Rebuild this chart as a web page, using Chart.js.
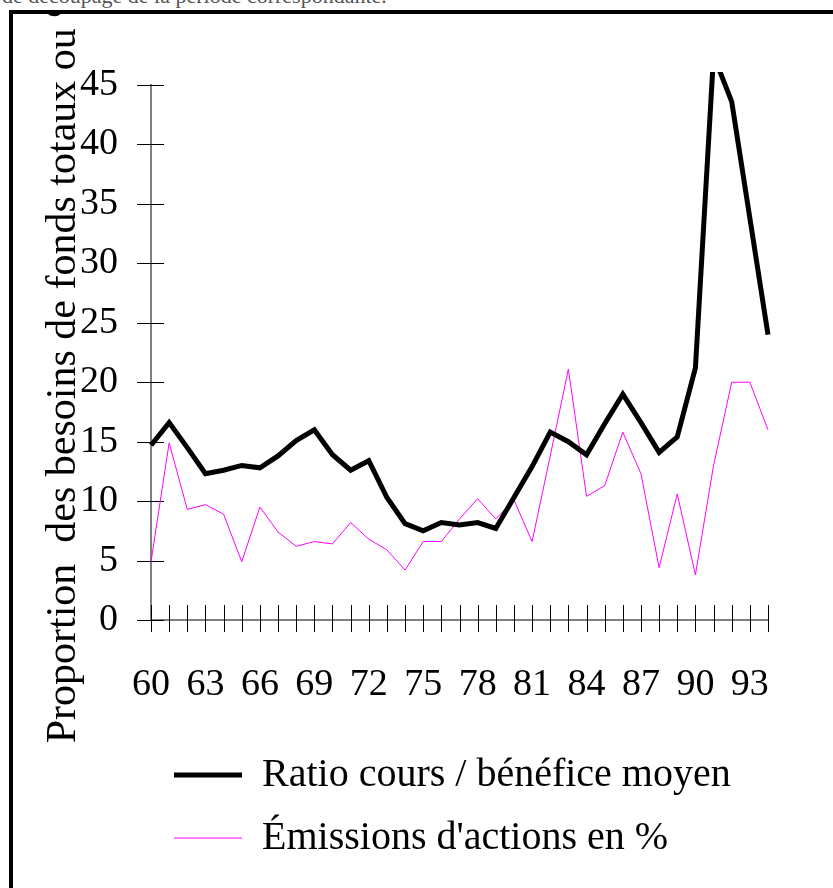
<!DOCTYPE html>
<html>
<head>
<meta charset="utf-8">
<script src="https://cdn.jsdelivr.net/npm/chart.js@4.4.0/dist/chart.umd.min.js"></script>
<style>
body { margin: 0; background: #fff; width: 833px; height: 888px; overflow: hidden; position: relative; font-family: "Liberation Serif", serif; }
#note { position: absolute; left: 2px; top: -17px; font-size: 22px; color: #555; white-space: nowrap; }
#box { position: absolute; left: 9px; top: 10px; width: 850px; height: 900px; border: 4px solid #000; box-sizing: border-box; }
#wrap { position: absolute; left: 13px; top: 14px; width: 820px; height: 874px; }
</style>
</head>
<body>
<div id="note">de découpage de la période correspondante.</div>
<div id="box"></div>
<div id="wrap"><canvas id="myLineChart"></canvas></div>
<script>
var years = ["60", "61", "62", "63", "64", "65", "66", "67", "68", "69",
    "70", "71", "72", "73", "74", "75", "76", "77", "78", "79",
    "80", "81", "82", "83", "84", "85", "86", "87", "88", "89",
    "90", "91", "92", "93", "94"];
// ratio cours / bénéfice moyen
var ratioValues = [14.7, 16.6, 14.5, 12.3, 12.6, 13.0, 12.8, 13.8, 15.1, 16.0,
    13.9, 12.6, 13.4, 10.3, 8.1, 7.5, 8.2, 8.0, 8.2, 7.7,
    10.3, 12.9, 15.8, 15.0, 13.9, 16.5, 19.0, 16.6, 14.1, 15.4,
    21.2, 47.5, 43.6, 33.8, 24.0];
// émissions d'actions en %
var emissionValues = [4.9, 14.9, 9.3, 9.7, 8.9, 4.9, 9.5, 7.4, 6.2, 6.6,
    6.4, 8.2, 6.8, 5.9, 4.2, 6.6, 6.6, 8.5, 10.2, 8.5,
    10.1, 6.6, 13.8, 21.1, 10.4, 11.3, 15.8, 12.3, 4.4, 10.6,
    3.8, 13.0, 20.0, 20.0, 16.0];
var yTicks = [0, 5, 10, 15, 20, 25, 30, 35, 40, 45];
var seriesNames = ["Ratio cours / bénéfice moyen", "Émissions d'actions en %"];
// trailing spaces push the centred title a little lower, like the original
var yTitle = "Proportion  des besoins de fonds totaux ou %  ";

var serif = "'Liberation Serif', 'Times New Roman', serif";

// tick marks that cross the axis lines
var crossTicks = {
    id: 'crossTicks',
    beforeDatasetsDraw: function (chart) {
        var ctx = chart.ctx;
        var xs = chart.scales.x;
        var ys = chart.scales.y;
        var area = chart.chartArea;
        ctx.save();
        ctx.strokeStyle = '#000';
        ctx.lineWidth = 1;
        ctx.beginPath();
        for (let i = 0; i < xs.ticks.length; i++) {
            var px = Math.round(xs.getPixelForTick(i)) + 0.5;
            ctx.moveTo(px, area.bottom - 15);
            ctx.lineTo(px, area.bottom + 12);
        }
        for (let i = 0; i < ys.ticks.length; i++) {
            var py = Math.round(ys.getPixelForTick(i)) + 0.5;
            ctx.moveTo(area.left - 14, py);
            ctx.lineTo(area.left + 13, py);
        }
        ctx.stroke();
        ctx.restore();
    }
};

new Chart("myLineChart", {
    type: "line",
    data: {
        labels: years,
        datasets: [{
            label: seriesNames[0],
            data: ratioValues,
            borderColor: "#000000",
            backgroundColor: "#000000",
            borderWidth: 5,
            pointRadius: 0,
            tension: 0,
            clip: { left: 10, top: 13, right: 10, bottom: 10 }
        }, {
            label: seriesNames[1],
            data: emissionValues,
            borderColor: "#ff00ff",
            backgroundColor: "#ff00ff",
            borderWidth: 1,
            pointRadius: 0,
            tension: 0,
            clip: { left: 10, top: 13, right: 10, bottom: 10 }
        }]
    },
    options: {
        responsive: true,
        maintainAspectRatio: false,
        animation: false,
        layout: { padding: { top: 71, right: 65, bottom: 20, left: 0 } },
        plugins: {
            tooltip: { enabled: false },
            legend: {
                display: true,
                position: 'bottom',
                align: 'start',
                fullSize: false,
                labels: {
                    usePointStyle: true,
                    pointStyle: 'line',
                    pointStyleWidth: 68,
                    padding: 23,
                    color: '#000',
                    font: { family: serif, size: 40 }
                }
            }
        },
        scales: {
            x: {
                afterFit: function (scale) { scale.height = 112; },
                grid: { drawOnChartArea: false, drawTicks: false },
                border: { color: '#808080', width: 2 },
                ticks: {
                    autoSkip: false,
                    maxRotation: 0,
                    padding: 42,
                    color: '#000',
                    font: { family: serif, size: 38 },
                    callback: function (val, idx) {
                        return idx % 3 === 0 ? this.getLabelForValue(val) : '';
                    }
                }
            },
            y: {
                min: 0,
                max: 45,
                afterFit: function (scale) { scale.width = 138; },
                afterBuildTicks: function (scale) {
                    scale.ticks = yTicks.map(function (v) { return { value: v }; });
                },
                grid: { drawOnChartArea: false, drawTicks: false },
                border: { color: '#808080', width: 2 },
                ticks: {
                    padding: 33,
                    color: '#000',
                    font: { family: serif, size: 38 }
                },
                title: {
                    display: true,
                    text: yTitle,
                    color: '#000',
                    padding: { top: 26, bottom: 0 },
                    font: { family: serif, size: 42 }
                }
            }
        }
    },
    plugins: [crossTicks]
});
</script>
</body>
</html>
